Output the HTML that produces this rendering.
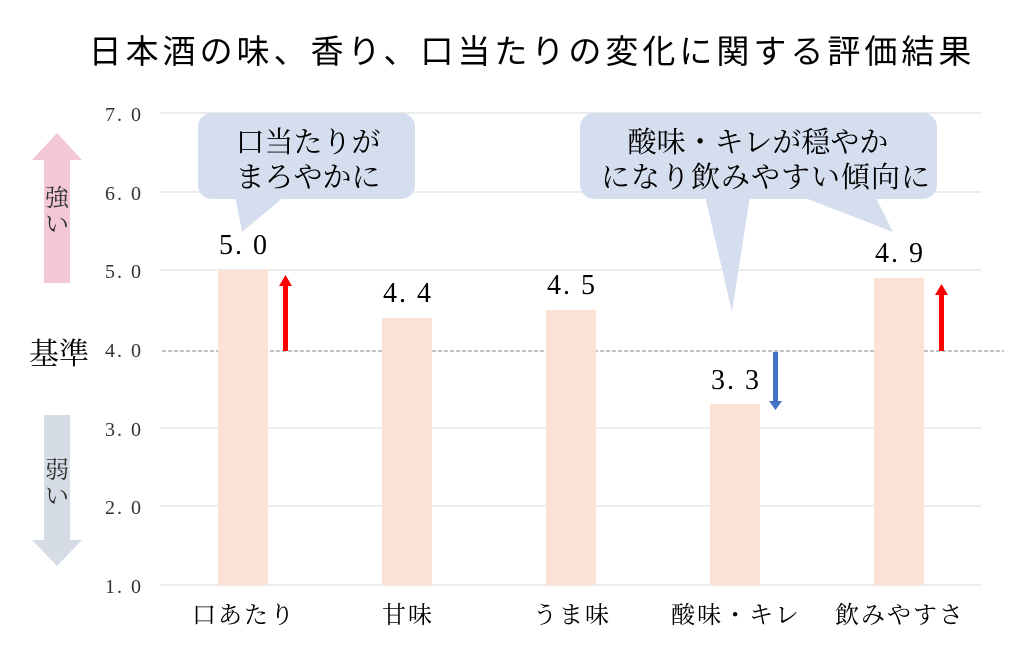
<!DOCTYPE html>
<html><head><meta charset="utf-8"><style>
body{margin:0;background:#fff}
svg text{font-family:"Liberation Serif","Noto Serif CJK JP",serif}
</style></head><body>
<svg width="1016" height="653" viewBox="0 0 1016 653" xmlns="http://www.w3.org/2000/svg">
<text x="532" y="63" font-size="33" letter-spacing="4" text-anchor="middle" fill="#000" style="font-family:'Liberation Sans','Noto Sans CJK JP',sans-serif">日本酒の味、香り、口当たりの変化に関する評価結果</text>
<g stroke="#d9d9d9" stroke-width="1">
<line x1="160" y1="113" x2="981" y2="113"/>
<line x1="160" y1="192" x2="981" y2="192"/>
<line x1="160" y1="270" x2="981" y2="270"/>
<line x1="160" y1="428" x2="981" y2="428"/>
<line x1="160" y1="506" x2="981" y2="506"/>
<line x1="160" y1="585" x2="981" y2="585"/>
</g>
<line x1="162" y1="351" x2="1004" y2="351" stroke="#808080" stroke-width="1" stroke-dasharray="4,2"/>
<g fill="#333" font-size="20" text-anchor="end" letter-spacing="2">
<text x="143" y="121">7. 0</text>
<text x="143" y="200">6. 0</text>
<text x="143" y="278">5. 0</text>
<text x="143" y="357">4. 0</text>
<text x="143" y="436">3. 0</text>
<text x="143" y="514">2. 0</text>
<text x="143" y="593">1. 0</text>
</g>
<g fill="#fbe2d5">
<rect x="218" y="270" width="50" height="315"/>
<rect x="382" y="318" width="50" height="267"/>
<rect x="546" y="310" width="50" height="275"/>
<rect x="710" y="404" width="50" height="181"/>
<rect x="874" y="278" width="50" height="307"/>
</g>
<g font-size="28" fill="#000" text-anchor="middle" letter-spacing="2">
<text x="244" y="254">5. 0</text>
<text x="408" y="302">4. 4</text>
<text x="572" y="294">4. 5</text>
<text x="736" y="389">3. 3</text>
<text x="900" y="262">4. 9</text>
</g>
<g font-size="24" fill="#000" text-anchor="middle" letter-spacing="2" style="font-family:'Liberation Sans','Noto Sans CJK JP',sans-serif">
<text x="244" y="623">口あたり</text>
<text x="408" y="623">甘味</text>
<text x="572" y="623">うま味</text>
<text x="736" y="623">酸味・キレ</text>
<text x="900" y="623">飲みやすさ</text>
</g>
<rect x="283" y="285" width="5" height="66" fill="#ff0000"/>
<polygon points="279,286 292,286 285.5,275" fill="#ff0000"/>
<rect x="939" y="294" width="5" height="57" fill="#ff0000"/>
<polygon points="935,295 948,295 941.5,284" fill="#ff0000"/>
<rect x="773" y="352" width="5" height="50" fill="#4472c4"/>
<polygon points="769,401 782,401 775.5,410" fill="#4472c4"/>
<polygon points="57,133 82,160 70,160 70,283 44,283 44,160 32,160" fill="#f4c7d7"/>
<polygon points="57,566 82,540 70,540 70,415 44,415 44,540 32,540" fill="#d6dce5"/>
<g font-size="24" fill="#333" text-anchor="middle">
<text x="57" y="206">強</text><text x="57" y="232">い</text>
<text x="57" y="478">弱</text><text x="57" y="504">い</text>
</g>
<text x="59" y="364" font-size="30" text-anchor="middle" fill="#000">基準</text>
<g fill="#d5deef">
<rect x="198" y="113" width="217" height="86" rx="14"/>
<polygon points="235,196 285,196 242,232"/>
<rect x="580" y="113" width="357" height="86" rx="14"/>
<polygon points="705,196 750,196 732,312"/>
<polygon points="800,196 875,196 893,232"/>
</g>
<g font-size="29" fill="#000" text-anchor="middle" style="font-family:'Liberation Sans','Noto Sans CJK JP',sans-serif">
<text x="308" y="152">口当たりが</text>
<text x="308" y="187">まろやかに</text>
<text x="758" y="152">酸味・キレが穏やか</text>
<text x="766" y="187" letter-spacing="1">になり飲みやすい傾向に</text>
</g>
</svg>
</body></html>
